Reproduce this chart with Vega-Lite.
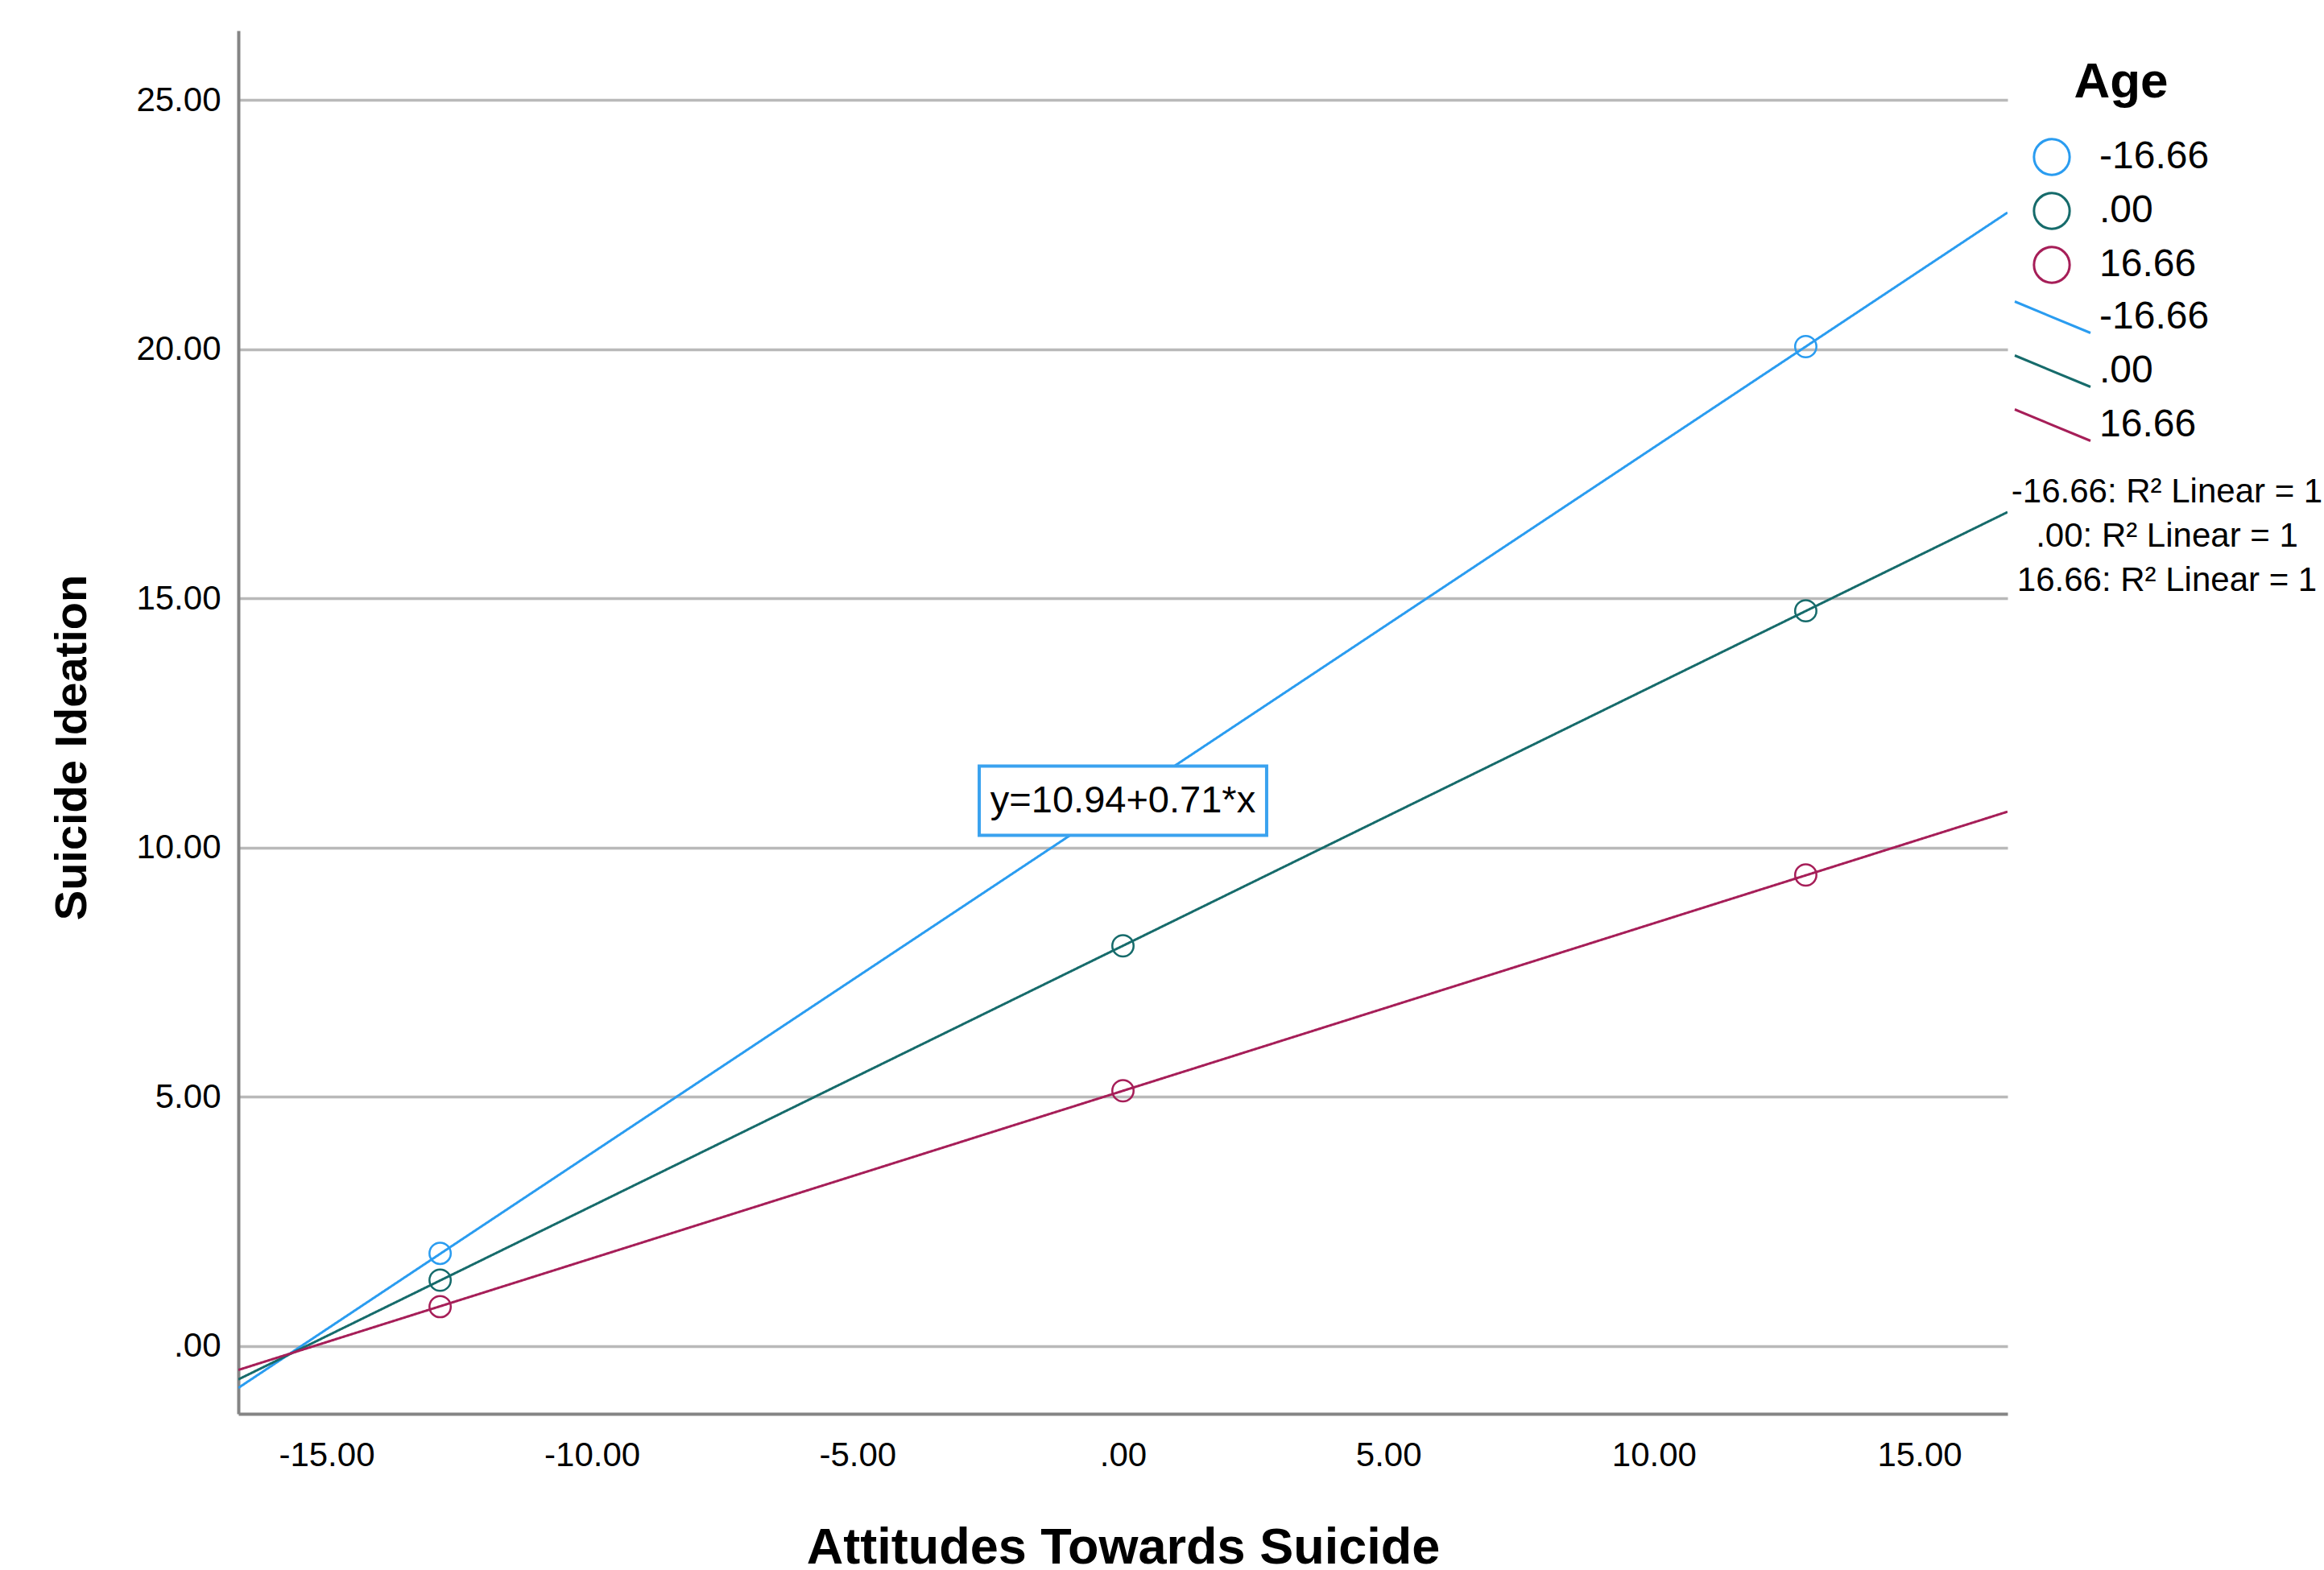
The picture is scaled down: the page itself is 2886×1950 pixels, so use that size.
{
  "$schema": "https://vega.github.io/schema/vega-lite/v6.json",
  "width": 2197,
  "height": 1718,
  "autosize": {"type": "none"},
  "padding": {"left": 296, "top": 38, "right": 393, "bottom": 194},
  "background": "white",
  "config": {"font": "Liberation Sans", "view": {"stroke": null}},
  "datasets": {
    "pts": [
      {"Attitude": -12.86, "Ideation": 1.86, "Age": "-16.66"},
      {"Attitude": 0, "Ideation": 10.94, "Age": "-16.66"},
      {"Attitude": 12.86, "Ideation": 20.05, "Age": "-16.66"},
      {"Attitude": -12.86, "Ideation": 1.32, "Age": ".00"},
      {"Attitude": 0, "Ideation": 8.03, "Age": ".00"},
      {"Attitude": 12.86, "Ideation": 14.75, "Age": ".00"},
      {"Attitude": -12.86, "Ideation": 0.79, "Age": "16.66"},
      {"Attitude": 0, "Ideation": 5.12, "Age": "16.66"},
      {"Attitude": 12.86, "Ideation": 9.45, "Age": "16.66"}
    ],
    "fits": [
      {"Attitude": -16.66, "Ideation": -0.84, "Line": "-16.66", "R2": "-16.66: R² Linear = 1"},
      {"Attitude": 16.66, "Ideation": 22.74, "Line": "-16.66", "R2": "-16.66: R² Linear = 1"},
      {"Attitude": -16.66, "Ideation": -0.67, "Line": ".00", "R2": ".00: R² Linear = 1"},
      {"Attitude": 16.66, "Ideation": 16.73, "Line": ".00", "R2": ".00: R² Linear = 1"},
      {"Attitude": -16.66, "Ideation": -0.48, "Line": "16.66", "R2": "16.66: R² Linear = 1"},
      {"Attitude": 16.66, "Ideation": 10.72, "Line": "16.66", "R2": "16.66: R² Linear = 1"}
    ],
    "eq": [
      {"Attitude": 0, "Ideation": 10.94, "Label": "y=10.94+0.71*x"}
    ]
  },
  "layer": [
    {
      "data": {"name": "fits"},
      "mark": {"type": "line", "strokeWidth": 3, "clip": true},
      "encoding": {
        "x": {
          "field": "Attitude", "type": "quantitative",
          "scale": {"domain": [-16.66, 16.66], "nice": false, "zero": false},
          "axis": {
            "values": [-15, -10, -5, 0, 5, 10, 15],
            "labelExpr": "datum.value == 0 ? '.00' : datum.value + '.00'",
            "grid": false, "ticks": false,
            "labelFontSize": 42, "labelColor": "black", "labelPadding": 31, "labelFlush": false,
            "title": "Attitudes Towards Suicide",
            "titleFontSize": 63, "titleFontWeight": "bold", "titleColor": "black", "titlePadding": 63,
            "domainColor": "#858585", "domainWidth": 4
          }
        },
        "y": {
          "field": "Ideation", "type": "quantitative",
          "scale": {"domain": [-1.36, 26.39], "nice": false, "zero": false},
          "axis": {
            "values": [0, 5, 10, 15, 20, 25],
            "labelExpr": "datum.value == 0 ? '.00' : datum.value + '.00'",
            "grid": true, "gridColor": "#b9b9b9", "gridWidth": 3.5, "ticks": false,
            "labelFontSize": 42, "labelColor": "black", "labelPadding": 22, "labelFlush": false,
            "title": "Suicide Ideation",
            "titleFontSize": 56, "titleFontWeight": "bold", "titleColor": "black", "titlePadding": 50, "titleY": 890,
            "domainColor": "#858585", "domainWidth": 4
          }
        },
        "stroke": {
          "field": "Line", "type": "nominal",
          "scale": {"range": ["#2a9cf0", "#166b6b", "#a61e58"]},
          "legend": {
            "title": null, "orient": "none", "legendX": 2228, "legendY": 331,
            "symbolType": "M-2,-0.83L2,0.83", "symbolSize": 2209, "symbolStrokeWidth": 3,
            "labelFontSize": 48, "labelColor": "black", "labelOffset": 33, "rowPadding": 15, "labelLimit": 1000
          }
        },
        "strokeDash": {
          "field": "R2", "type": "nominal",
          "scale": {"range": [[1, 0], [1, 0], [1, 0]]},
          "legend": {
            "title": null, "orient": "none", "legendX": 2353, "legendY": 552,
            "symbolOpacity": 0, "symbolSize": 1,
            "labelFontSize": 42, "labelColor": "black", "labelAlign": "center", "labelOffset": 0, "rowPadding": 13, "labelLimit": 1000
          }
        }
      }
    },
    {
      "data": {"name": "pts"},
      "mark": {"type": "point", "filled": false, "size": 700, "strokeWidth": 2.5, "opacity": 1},
      "encoding": {
        "x": {"field": "Attitude", "type": "quantitative"},
        "y": {"field": "Ideation", "type": "quantitative"},
        "color": {
          "field": "Age", "type": "nominal",
          "scale": {"domain": ["-16.66", ".00", "16.66"], "range": ["#2a9cf0", "#166b6b", "#a61e58"]},
          "legend": {
            "title": "Age", "orient": "none", "legendX": 2228, "legendY": 34,
            "titleFontSize": 62, "titleFontWeight": "bold", "titleColor": "black", "titleAnchor": "middle", "titlePadding": 37,
            "symbolType": "circle", "symbolSize": 1963, "symbolStrokeWidth": 3,
            "labelFontSize": 48, "labelColor": "black", "labelOffset": 35, "rowPadding": 9, "labelLimit": 1000
          }
        }
      }
    },
    {
      "data": {"name": "eq"},
      "mark": {"type": "point", "shape": "M-4.15,-1H4.15V1H-4.15Z", "size": 7396, "filled": true, "fill": "white", "stroke": "#3aa2ef", "strokeWidth": 4, "opacity": 1},
      "encoding": {
        "x": {"field": "Attitude", "type": "quantitative"},
        "y": {"field": "Ideation", "type": "quantitative"}
      }
    },
    {
      "data": {"name": "eq"},
      "mark": {"type": "text", "fontSize": 47, "color": "black"},
      "encoding": {
        "x": {"field": "Attitude", "type": "quantitative"},
        "y": {"field": "Ideation", "type": "quantitative"},
        "text": {"field": "Label"}
      }
    }
  ]
}
